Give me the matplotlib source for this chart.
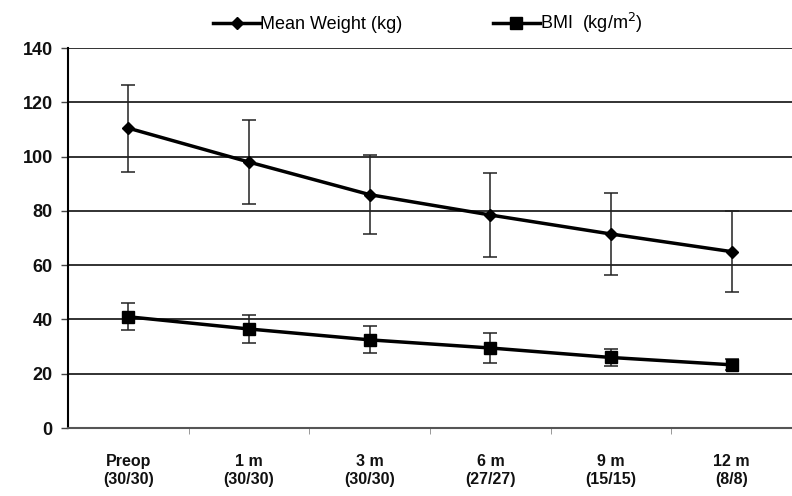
import matplotlib.pyplot as plt
from matplotlib.lines import Line2D
import numpy as np

plt.rcParams['font.family'] = ['Liberation Sans', 'DejaVu Sans']

# data
timepoints = ["Preop\n(30/30)", "1 m\n(30/30)", "3 m\n(30/30)", "6 m\n(27/27)", "9 m\n(15/15)", "12 m\n(8/8)"]
weight = [110.5, 98.0, 86.0, 78.5, 71.5, 65.0]
weight_sd = [16.0, 15.5, 14.5, 15.5, 15.0, 15.0]
bmi = [41.0, 36.5, 32.5, 29.5, 26.0, 23.3]
bmi_sd = [5.0, 5.0, 5.0, 5.5, 3.0, 2.0]

x = np.arange(len(timepoints))

fig = plt.figure(figsize=(7.92, 4.96), dpi=100)
ax = fig.add_axes([0.086, 0.137, 0.914, 0.766])

ax.errorbar(x, weight, yerr=weight_sd, color="black", lw=2.5, marker="D", ms=6.5,
            ecolor="#222222", elinewidth=1.1, capsize=5, capthick=1.1, zorder=3)
ax.errorbar(x, bmi, yerr=bmi_sd, color="black", lw=2.5, marker="s", ms=8,
            ecolor="#222222", elinewidth=1.1, capsize=5, capthick=1.1, zorder=3)

ax.set_xlim(-0.5, len(timepoints) - 0.5)
ax.set_ylim(0, 140)
ax.set_yticks(np.arange(0, 141, 20))
ax.yaxis.grid(True, color="#222222", lw=1.3)
ax.set_axisbelow(True)

ax.set_xticks(x)
ax.set_xticklabels(timepoints, fontsize=11.5, fontweight="bold", color="#111111",
                   linespacing=1.2)
ax.set_xticks(np.arange(0.5, len(timepoints) - 0.5, 1), minor=True)
ax.tick_params(axis="x", which="major", length=0, pad=19)
ax.tick_params(axis="x", which="minor", length=4, color="#888888")
ax.tick_params(axis="y", length=5, width=1, color="#444444", pad=6)
for lab in ax.get_yticklabels():
    lab.set_fontsize(13)
    lab.set_fontweight("bold")
    lab.set_color("#111111")

for s in ["top", "right"]:
    ax.spines[s].set_visible(False)
ax.spines["left"].set_color("black")
ax.spines["left"].set_linewidth(1.5)
ax.spines["bottom"].set_color("#555555")
ax.spines["bottom"].set_linewidth(1.5)

handles = [
    Line2D([], [], color="black", lw=2.5, marker="D", ms=6.5),
    Line2D([], [], color="black", lw=2.5, marker="s", ms=8),
]
labels = ["Mean Weight (kg)", "BMI  (kg/m$^2$)"]
ax.legend(handles, labels, loc="lower center", bbox_to_anchor=(0.497, 1.0), ncol=2,
          frameon=False, fontsize=13, handlelength=2.6, handletextpad=0.0,
          columnspacing=5.0, borderaxespad=0.3)

fig.savefig("out.png", dpi=100)
